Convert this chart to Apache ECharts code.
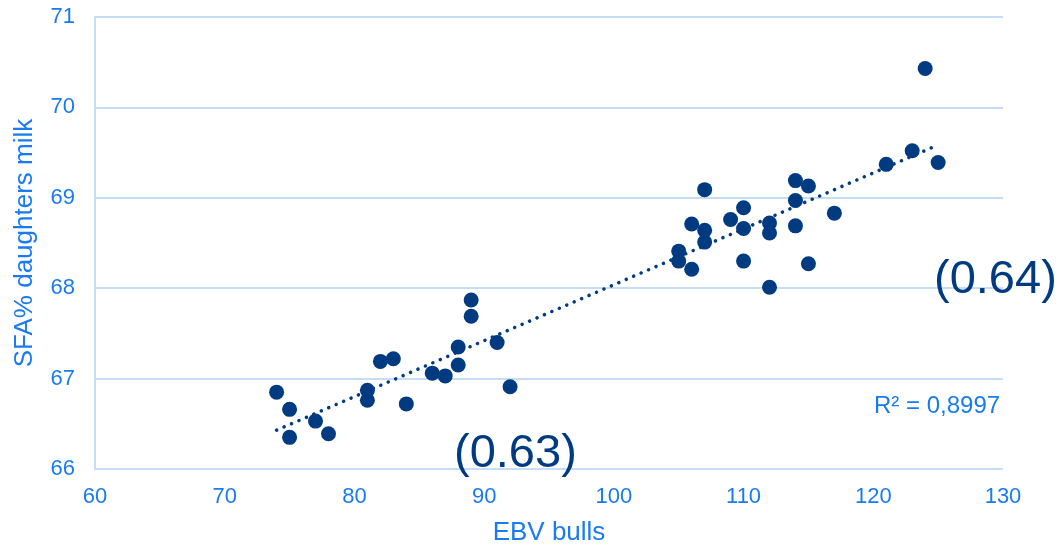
<!DOCTYPE html>
<html>
<head>
<meta charset="utf-8">
<script src="https://cdn.jsdelivr.net/npm/echarts@6/dist/echarts.min.js"></script>
<style>
  html, body { margin: 0; padding: 0; background: #fff; }
  #chart { width: 1060px; height: 548px; }
</style>
</head>
<body>
<div id="chart"></div>
<script>
// EBV of bulls vs SFA% in daughters' milk
const ebvBulls = [74, 75, 75, 77, 78, 81, 81, 82, 83, 84, 86, 87, 88, 88, 89, 89, 91, 92,
    105, 105, 106, 106, 107, 107, 107, 109, 110, 110, 110, 112, 112, 112, 114, 114, 114,
    115, 115, 117, 121, 123, 124, 125];
const sfaDaughters = [66.85, 66.66, 66.35, 66.53, 66.39, 66.87, 66.76, 67.19, 67.22, 66.72,
    67.06, 67.03, 67.35, 67.15, 67.87, 67.69, 67.40, 66.91,
    68.41, 68.30, 68.21, 68.71, 69.09, 68.64, 68.51, 68.76, 68.89, 68.66, 68.30, 68.72,
    68.61, 68.01, 69.19, 68.97, 68.69, 69.13, 68.27, 68.83, 69.37, 69.52, 70.43, 69.39];
const xTicks = [60, 70, 80, 90, 100, 110, 120, 130];
const yTicks = [66, 67, 68, 69, 70, 71];
const rSquaredText = 'R² = 0,8997';
const lowLabel = '(0.63)';
const highLabel = '(0.64)';

const FONT = '"Liberation Sans", Arial, sans-serif';
const BLUE = '#1a7bf0';
const NAVY = '#003a80';
const GRID = '#c6ddf8';

// 线性趋势线（最小二乘）
function linearFit(xs, ys) {
    const n = xs.length;
    let sx = 0, sy = 0, sxx = 0, sxy = 0;
    for (let i = 0; i < n; i++) {
        sx += xs[i]; sy += ys[i];
        sxx += xs[i] * xs[i]; sxy += xs[i] * ys[i];
    }
    const slope = (n * sxy - sx * sy) / (n * sxx - sx * sx);
    const intercept = (sy - slope * sx) / n;
    return { slope, intercept };
}

const fit = linearFit(ebvBulls, sfaDaughters);
const xMin = Math.min(...ebvBulls);
const xMax = Math.max(...ebvBulls);
const trendData = [
    [xMin, fit.intercept + fit.slope * xMin],
    [xMax, fit.intercept + fit.slope * xMax]
];
const points = ebvBulls.map((x, i) => [x, sfaDaughters[i]]);

const chart = echarts.init(document.getElementById('chart'));
chart.setOption({
    animation: false,
    textStyle: { fontFamily: FONT },
    grid: { left: 95, right: 57, top: 17, bottom: 79, containLabel: false, outerBoundsMode: 'none' },
    xAxis: {
        type: 'value',
        min: xTicks[0],
        max: xTicks[xTicks.length - 1],
        interval: 10,
        name: 'EBV bulls',
        nameLocation: 'middle',
        nameGap: 51,
        nameTextStyle: { color: BLUE, fontSize: 26, fontFamily: FONT },
        axisLine: { show: false },
        axisTick: { show: false },
        splitLine: { show: false },
        axisLabel: { color: BLUE, fontSize: 22, margin: 17, fontFamily: FONT }
    },
    yAxis: {
        type: 'value',
        min: yTicks[0],
        max: yTicks[yTicks.length - 1],
        interval: 1,
        name: 'SFA% daughters milk',
        nameLocation: 'middle',
        nameGap: 57,
        nameTextStyle: { color: BLUE, fontSize: 26, fontFamily: FONT },
        axisLine: { show: true, lineStyle: { color: GRID, width: 2 } },
        axisTick: { show: false },
        splitLine: { show: true, lineStyle: { color: GRID, width: 2 } },
        axisLabel: { color: BLUE, fontSize: 22, margin: 20, fontFamily: FONT }
    },
    series: [{
        name: 'trend',
        type: 'line',
        data: trendData,
        symbol: 'none',
        silent: true,
        z: 3,
        lineStyle: { color: NAVY, width: 3.5, type: [0.1, 8], cap: 'round' }
    }, {
        name: 'bulls',
        type: 'scatter',
        data: points,
        symbolSize: 15,
        z: 2,
        itemStyle: { color: NAVY, opacity: 1 }
    }],
    graphic: [{
        type: 'text',
        left: 454,
        top: 431,
        z: 10,
        style: { text: lowLabel, fill: NAVY, fontSize: 47, fontFamily: FONT }
    }, {
        type: 'text',
        left: 934,
        top: 257,
        z: 10,
        style: { text: highLabel, fill: NAVY, fontSize: 47, fontFamily: FONT }
    }, {
        type: 'text',
        left: 874,
        top: 394,
        z: 10,
        style: { text: rSquaredText, fill: BLUE, fontSize: 24, fontFamily: FONT }
    }]
});
</script>
</body>
</html>
